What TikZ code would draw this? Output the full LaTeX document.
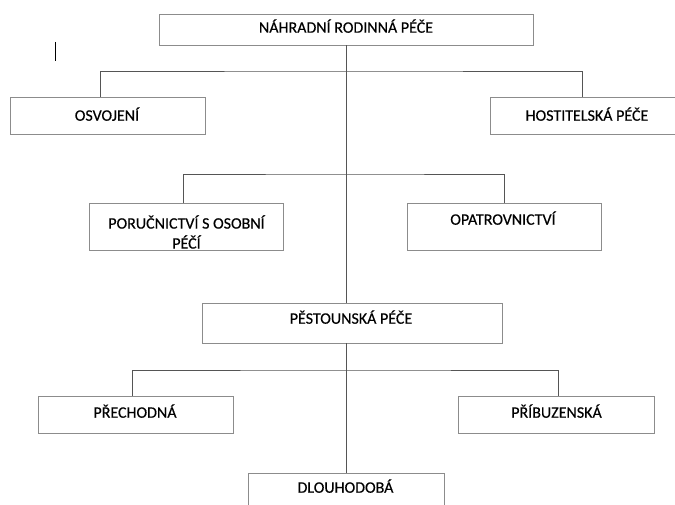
\documentclass[tikz,border=0pt]{standalone}
\usepackage{fontspec}
\setmainfont[FakeBold=0.4]{Carlito}
\definecolor{boxgray}{HTML}{8C8C8C}
\definecolor{linegray}{HTML}{555555}
\tikzset{
  box/.style={draw=boxgray, line width=0.9pt, rectangle, inner sep=0pt, fill=none},
  txt/.style={inner sep=0pt, font=\fontsize{16}{20}\selectfont, text height=0.644em, text depth=0pt},
  mtxt/.style={inner sep=0pt, font=\fontsize{16}{20}\selectfont, align=center},
  conn/.style={draw=linegray, line width=0.8pt}
}
\begin{document}
\begin{tikzpicture}[x=1pt, y=-1pt]
\useasboundingbox (0,0) rectangle (675,505);
\clip (0,0) rectangle (675,505);
% boxes
\node[box, minimum width=374pt, minimum height=31pt] (top) at (346,29.5) {};
\node[box, minimum width=195pt, minimum height=37pt] (osv) at (107.5,115.5) {};
\node[box, minimum width=200pt, minimum height=37pt] (host) at (590,115.5) {};
\node[box, minimum width=194pt, minimum height=47pt] (por) at (186,226.5) {};
\node[box, minimum width=194pt, minimum height=47pt] (opa) at (504,226.5) {};
\node[box, minimum width=300pt, minimum height=40pt] (pes) at (352,323) {};
\node[box, minimum width=195pt, minimum height=37pt] (pre) at (135.5,414.5) {};
\node[box, minimum width=196pt, minimum height=37pt] (pri) at (556,414.5) {};
\node[box, minimum width=196pt, minimum height=47pt] (dlo) at (346,496.5) {};
% texts
\node[txt] (ttop) at (346,29.5) {NÁHRADNÍ RODINNÁ PÉČE};
\node[txt] (tosv) at (107,117.5) {OSVOJENÍ};
\node[txt] (thost) at (587,117.5) {HOSTITELSKÁ PÉČE};
\node[mtxt] (tpor) at (186.5,232) {PORUČNICTVÍ S OSOBNÍ\\PÉČÍ};
\node[txt] (topa) at (503,221.5) {OPATROVNICTVÍ};
\node[txt] (tpes) at (351,320.5) {PĚSTOUNSKÁ PÉČE};
\node[txt] (tpre) at (135,414.5) {PŘECHODNÁ};
\node[txt] (tpri) at (556.5,414.5) {PŘÍBUZENSKÁ};
\node[txt] (tdlo) at (345.5,489.5) {DLOUHODOBÁ};
% junction coordinates
\coordinate (j1) at (346,71);
\coordinate (j2) at (346,174);
\coordinate (j3) at (346,370);
\coordinate (osvin) at (100,97);
\coordinate (hostin) at (582,97);
\coordinate (porin) at (183,203);
\coordinate (opain) at (504,203);
\coordinate (prein) at (132,396);
\coordinate (priin) at (558,396);
% connectors
\draw[conn] (top.south -| j1) -- (pes.north -| j1);
\draw[conn] (pes.south -| j3) -- (dlo.north -| j3);
\draw[conn] (osvin) |- (j1) -| (hostin);
\draw[conn] (porin) |- (j2) -| (opain);
\draw[conn] (prein) |- (j3) -| (priin);
% text caret
\draw[black, line width=1pt] (55,42) -- (55,61);
\end{tikzpicture}
\end{document}
